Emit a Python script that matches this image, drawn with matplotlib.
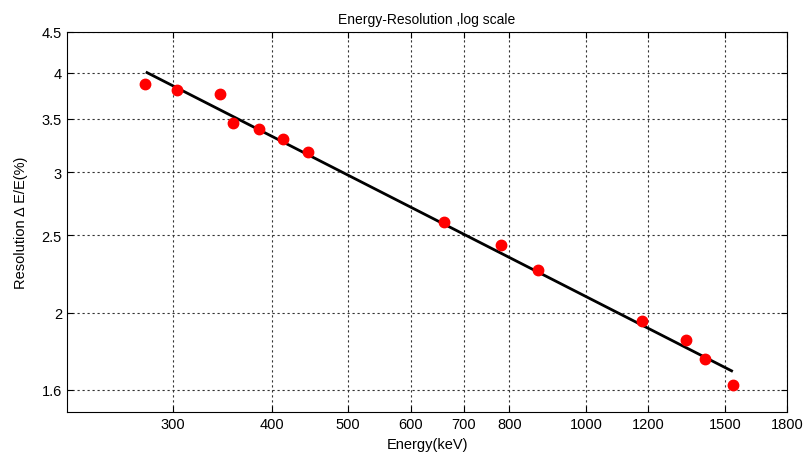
import matplotlib
matplotlib.use("Agg")
import matplotlib.pyplot as plt
from matplotlib.ticker import FixedLocator, FixedFormatter, NullLocator

plt.rcParams['font.family'] = ['Liberation Sans', 'DejaVu Sans']

# measured peaks
energy = [276, 303, 344, 357, 385, 413, 445, 662, 780, 869, 1178, 1340, 1416, 1538]
resolution = [3.87, 3.80, 3.76, 3.46, 3.40, 3.30, 3.18, 2.60, 2.43, 2.26, 1.95, 1.85, 1.75, 1.62]

# fitted line end points
fit_energy = [278, 1530]
fit_resolution = [4.0, 1.69]

xticks = [300, 400, 500, 600, 700, 800, 1000, 1200, 1500, 1800]
yticks = [1.6, 2, 2.5, 3, 3.5, 4, 4.5]
ytick_labels = ['1.6', '2', '2.5', '3', '3.5', '4', '4.5']

fig = plt.figure(figsize=(8.05, 4.56), dpi=100)
ax = fig.add_axes([0.083, 0.094, 0.895, 0.834])

ax.plot(fit_energy, fit_resolution, color='black', lw=2, zorder=3)
ax.plot(energy, resolution, 'o', color='red', markersize=7.5, zorder=4)

ax.set_xscale('log')
ax.set_yscale('log')
ax.set_xlim(220, 1800)
ax.set_ylim(1.5, 4.5)

ax.xaxis.set_major_locator(FixedLocator(xticks))
ax.xaxis.set_major_formatter(FixedFormatter([str(t) for t in xticks]))
ax.xaxis.set_minor_locator(NullLocator())
ax.yaxis.set_major_locator(FixedLocator(yticks))
ax.yaxis.set_major_formatter(FixedFormatter(ytick_labels))
ax.yaxis.set_minor_locator(NullLocator())

ax.grid(True, which='major', color='#333333', linestyle=(0, (2, 2.5)), linewidth=0.8)
ax.tick_params(direction='in', length=4, labelsize=10.5, top=True, right=True)
for s in ax.spines.values():
    s.set_linewidth(0.8)

ax.set_title('Energy-Resolution ,log scale', fontsize=10)
ax.set_xlabel('Energy(keV)', fontsize=10.5, labelpad=4)
ax.set_ylabel('Resolution \u0394 E/E(%)', fontsize=10.5, labelpad=10)

fig.savefig('out.png', dpi=100)
